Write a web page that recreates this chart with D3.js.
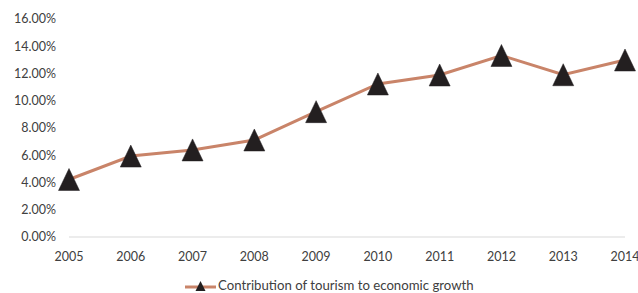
<!DOCTYPE html>
<html><head><meta charset="utf-8">
<script src="https://cdn.jsdelivr.net/npm/d3@7"></script>
<style>body{margin:0;background:#fff}svg{display:block}text{font-family:Lato,"Open Sans",sans-serif;fill:#404040}</style>
</head><body><svg id="c" width="638" height="293"></svg>
<script>
const years = ["2005","2006","2007","2008","2009","2010","2011","2012","2013","2014"];
const contribution = [0.0422,0.0594,0.0639,0.0712,0.092,0.1123,0.1189,0.1332,0.1191,0.1299];
const yTicks = [0,0.02,0.04,0.06,0.08,0.10,0.12,0.14,0.16];
const seriesName = "Contribution of tourism to economic growth";

const svg = d3.select("#c");
const x = d3.scalePoint().domain(years).range([69,625]);
const y = d3.scaleLinear().domain([0,0.16]).range([237,19]);

// y axis labels
svg.append("g").selectAll("text").data(yTicks).join("text")
  .attr("x",56).attr("y",d=>y(d)).attr("dy","0.35em")
  .attr("text-anchor","end").attr("font-size",12.5)
  .text(d=>d3.format(".2%")(d));

// x axis line
svg.append("line").attr("x1",x(years[0])).attr("x2",x(years[years.length-1]))
  .attr("y1",y(0)).attr("y2",y(0)).attr("stroke","#d9d9d9").attr("stroke-width",1);

svg.append("g").selectAll("text").data(years).join("text")
  .attr("x",d=>x(d)).attr("y",261).attr("text-anchor","middle").attr("font-size",12.5)
  .text(d=>d);

const line = d3.line().x((d,i)=>x(years[i])).y(d=>y(d));
svg.append("path").datum(contribution).attr("d",line)
  .attr("fill","none").attr("stroke","#C98469").attr("stroke-width",3);

const tri = (cx,cy,w,h)=>`M${cx},${cy-h/2}L${cx+w/2},${cy+h/2}L${cx-w/2},${cy+h/2}Z`;
svg.append("g").selectAll("path").data(contribution).join("path")
  .attr("d",(d,i)=>tri(x(years[i]),y(d),21,22))
  .attr("fill","#231F20").attr("stroke","#231F20").attr("stroke-width",0.5);

// legend
svg.append("line").attr("x1",185).attr("x2",216).attr("y1",287).attr("y2",287)
  .attr("stroke","#C98469").attr("stroke-width",3);
svg.append("path").attr("d",tri(200.5,286,10,10)).attr("fill","#231F20");
svg.append("text").attr("x",218).attr("y",289.5).attr("font-size",13.2).text(seriesName);
</script></body></html>
